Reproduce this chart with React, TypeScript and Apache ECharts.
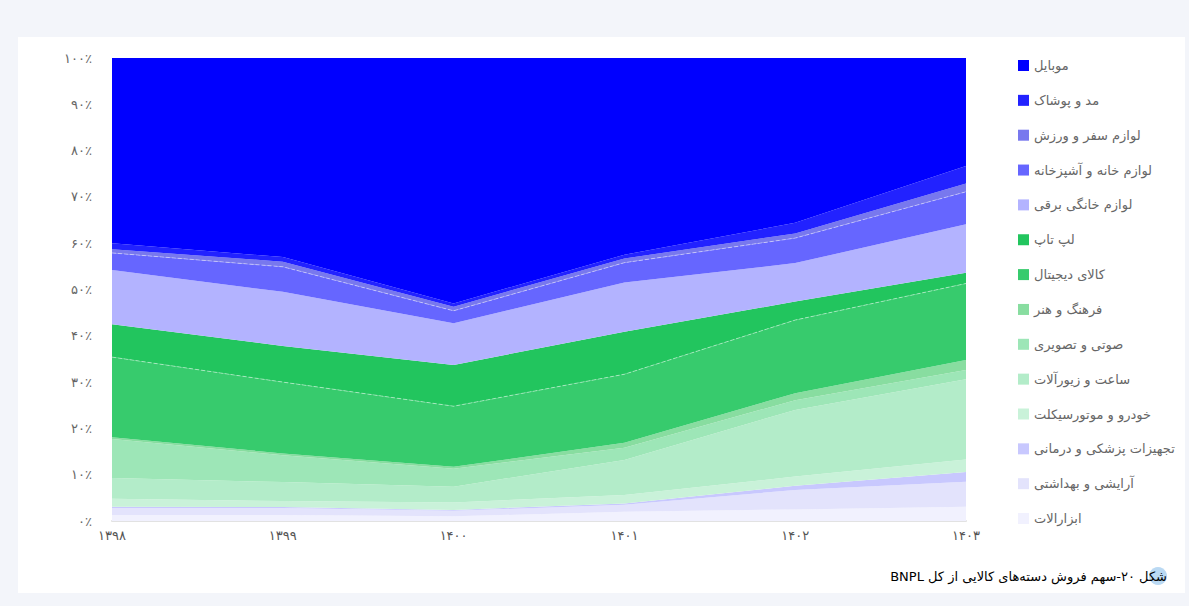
import React, { useEffect, useRef } from "react";
import * as echarts from "echarts";

const years = ["۱۳۹۸", "۱۳۹۹", "۱۴۰۰", "۱۴۰۱", "۱۴۰۲", "۱۴۰۳"];

// shares in percent, stacked bottom -> top
const tools = [1.3, 1.3, 1.0, 2.0, 2.5, 3.1];
const cosmetics = [1.5, 1.5, 1.2, 1.5, 4.2, 5.4];
const medical = [0.3, 0.2, 0.2, 0.3, 0.9, 2.1];
const car = [1.7, 1.3, 1.6, 1.8, 2.0, 2.7];
const watch = [4.5, 4.1, 3.4, 7.6, 14.4, 17.3];
const audio = [8.4, 5.8, 3.9, 2.6, 2.1, 2.0];
const culture = [0.4, 0.4, 0.4, 1.1, 1.5, 2.2];
const digital = [17.3, 15.4, 13.1, 14.8, 15.8, 16.5];
const laptop = [7.1, 7.8, 8.9, 9.2, 4.0, 2.3];
const appliances = [11.7, 11.7, 9.0, 10.6, 8.3, 10.5];
const homeKitchen = [3.7, 5.4, 2.7, 4.3, 5.4, 7.0];
const travel = [0.8, 1.1, 0.9, 0.9, 1.0, 1.8];
const fashion = [1.3, 1.0, 0.7, 0.8, 2.3, 3.8];
const mobile = [40.0, 43.0, 53.0, 42.5, 35.6, 23.3];

const yTicks = [0, 10, 20, 30, 40, 50, 60, 70, 80, 90, 100];

const names = {
  tools: "ابزارالات",
  cosmetics: "آرایشی و بهداشتی",
  medical: "تجهیزات پزشکی و درمانی",
  car: "خودرو و موتورسیکلت",
  watch: "ساعت و زیورآلات",
  audio: "صوتی و تصویری",
  culture: "فرهنگ و هنر",
  digital: "کالای دیجیتال",
  laptop: "لپ تاپ",
  appliances: "لوازم خانگی برقی",
  homeKitchen: "لوازم خانه و آشپزخانه",
  travel: "لوازم سفر و ورزش",
  fashion: "مد و پوشاک",
  mobile: "موبایل",
};

const caption = "شکل ۲۰-سهم فروش دسته\u200Cهای کالایی از کل BNPL";

const FA = "DejaVu Sans";

const toFa = (v: number | string) =>
  String(v).replace(/[0-9]/g, (d) => "۰۱۲۳۴۵۶۷۸۹"[Number(d)]);

export default function App() {
  const ref = useRef<HTMLDivElement>(null);

  useEffect(() => {
    if (!ref.current) return;
    const chart = echarts.init(ref.current, undefined, { renderer: "svg" });

    const layers: [string, number[], string, boolean][] = [
      [names.tools, tools, "#f1f1fe", false],
      [names.cosmetics, cosmetics, "#e3e3fc", false],
      [names.medical, medical, "#c8c8fe", false],
      [names.car, car, "#c9f2d9", false],
      [names.watch, watch, "#b3ecc9", false],
      [names.audio, audio, "#9de6b7", false],
      [names.culture, culture, "#88dda0", false],
      [names.digital, digital, "#37cb6d", true],
      [names.laptop, laptop, "#22c55e", false],
      [names.appliances, appliances, "#b3b3ff", false],
      [names.homeKitchen, homeKitchen, "#6666ff", true],
      [names.travel, travel, "#7878ee", false],
      [names.fashion, fashion, "#2222ff", false],
      [names.mobile, mobile, "#0000ff", false],
    ];

    const legendOrder = [
      names.mobile,
      names.fashion,
      names.travel,
      names.homeKitchen,
      names.appliances,
      names.laptop,
      names.digital,
      names.culture,
      names.audio,
      names.watch,
      names.car,
      names.medical,
      names.cosmetics,
      names.tools,
    ];

    chart.setOption({
      animation: false,
      backgroundColor: "transparent",
      textStyle: { fontFamily: FA },
      grid: { left: 112, right: 223, top: 58, bottom: 85 },
      legend: {
        orient: "vertical",
        left: 1013,
        top: 54,
        itemWidth: 11,
        itemHeight: 11,
        itemGap: 21.85,
        icon: "rect",
        data: legendOrder,
        textStyle: { color: "#666", fontSize: 13, fontFamily: FA },
      },
      xAxis: {
        type: "category",
        data: years,
        boundaryGap: false,
        axisLine: { show: true, lineStyle: { color: "#e2e2e2", width: 2 } },
        axisTick: { show: false },
        axisLabel: { color: "#555", fontSize: 13, margin: 8, fontFamily: FA },
        splitLine: { show: false },
      },
      yAxis: {
        type: "value",
        min: 0,
        max: 100,
        interval: 10,
        axisLine: { show: false },
        axisTick: { show: false },
        splitLine: { show: false },
        axisLabel: {
          color: "#666",
          fontSize: 13,
          margin: 20,
          padding: [0, 0, 4, 0],
          fontFamily: FA,
          formatter: (v: number) => (yTicks.includes(v) ? toFa(v) + "٪" : ""),
        },
      },
      series: layers.map(([name, data, color, dashed]) => ({
        name,
        type: "line",
        stack: "total",
        data,
        symbol: "none",
        smooth: false,
        itemStyle: { color },
        lineStyle: dashed
          ? { width: 1, type: "dashed", color: "rgba(255,255,255,0.45)" }
          : { width: 0, color },
        areaStyle: { color, opacity: 1 },
        emphasis: { disabled: true },
      })),
      graphic: [
        {
          type: "circle",
          shape: { cx: 1158, cy: 576, r: 9 },
          style: { fill: "#a9d0f0", opacity: 0.8 },
          z: 1,
        },
        {
          type: "text",
          x: 1167,
          y: 576,
          z: 2,
          style: {
            text: "\u202B" + caption + "\u202C",
            fill: "#000",
            fontSize: 13,
            fontFamily: FA,
            textAlign: "right",
            textVerticalAlign: "middle",
          },
        },
      ],
    });

    return () => chart.dispose();
  }, []);

  return (
    <div
      style={{
        position: "fixed",
        left: 0,
        top: 0,
        width: 1189,
        height: 606,
        background: "#f3f5fa",
      }}
    >
      <div
        style={{
          position: "absolute",
          left: 18,
          top: 37,
          width: 1167,
          height: 556,
          background: "#ffffff",
        }}
      />
      <div
        ref={ref}
        style={{ position: "absolute", left: 0, top: 0, width: 1189, height: 606 }}
      />
    </div>
  );
}
